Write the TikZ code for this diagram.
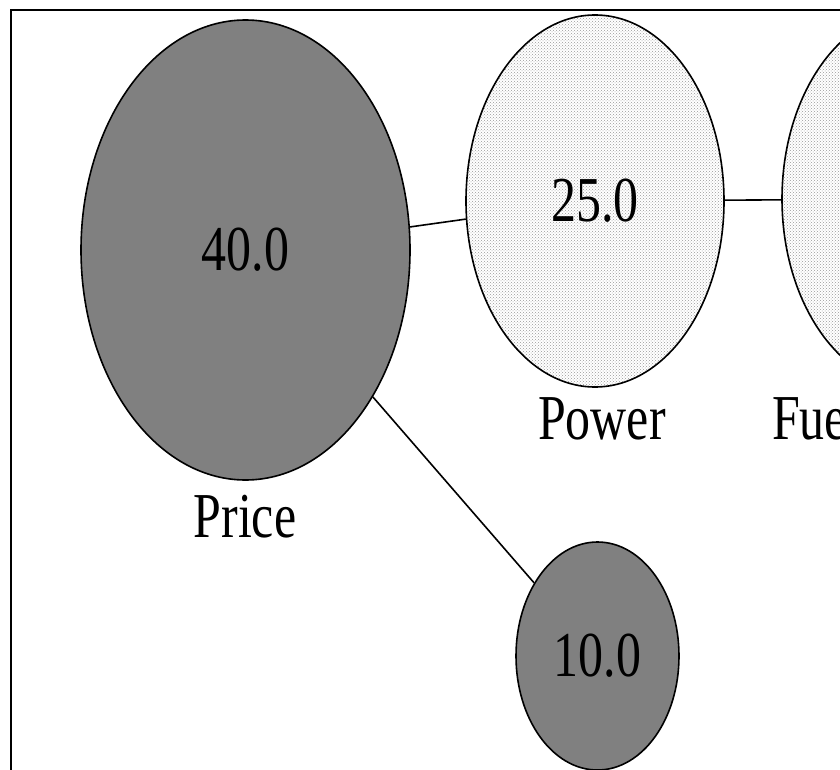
\documentclass[tikz,border=0pt]{standalone}
\usepackage{fontspec}
\setmainfont{Liberation Serif}
\newfontfamily\dfont[FakeStretch=0.78]{Liberation Serif}
\usetikzlibrary{shapes.geometric,patterns}
\definecolor{blobgray}{RGB}{128,128,128}
\begin{document}
\begin{tikzpicture}[x=1pt,y=-1pt,
  blob/.style={ellipse,draw=black,line width=1.6pt,inner sep=0pt,
    font=\dfont\fontsize{64}{64}\selectfont},
  dark/.style={blob,fill=blobgray},
  speckle/.style={blob,pattern=crosshatch dots,pattern color=black!40},
  lbl/.style={font=\dfont\fontsize{64}{64}\selectfont,inner sep=0pt},
  link/.style={line width=1.6pt}]
\useasboundingbox (0,0) rectangle (840,770);
\clip (0,0) rectangle (840,770);
\draw[line width=2.2pt] (11,10) rectangle (900,820);
\node[dark,minimum width=329pt,minimum height=460pt] (price) at (245.5,250) {40.0};
\node[speckle,minimum width=258pt,minimum height=372pt] (power) at (595,201) {25.0};
\node[speckle,minimum width=262pt,minimum height=376pt] (fuel) at (913,199) {};
\node[dark,minimum width=163pt,minimum height=228pt] (ten) at (597.5,656) {10.0};
\node[lbl,anchor=base] (pricelbl) at (245,537) {Price};
\node[lbl,anchor=base west] (powerlbl) at (538,439) {Power};
\node[lbl,anchor=base west] (fuellbl) at (772,439) {Fuel};
\draw[link] (price) -- (power);
\draw[link] (power) -- (fuel);
\draw[link] (price) -- (ten);
\end{tikzpicture}
\end{document}
